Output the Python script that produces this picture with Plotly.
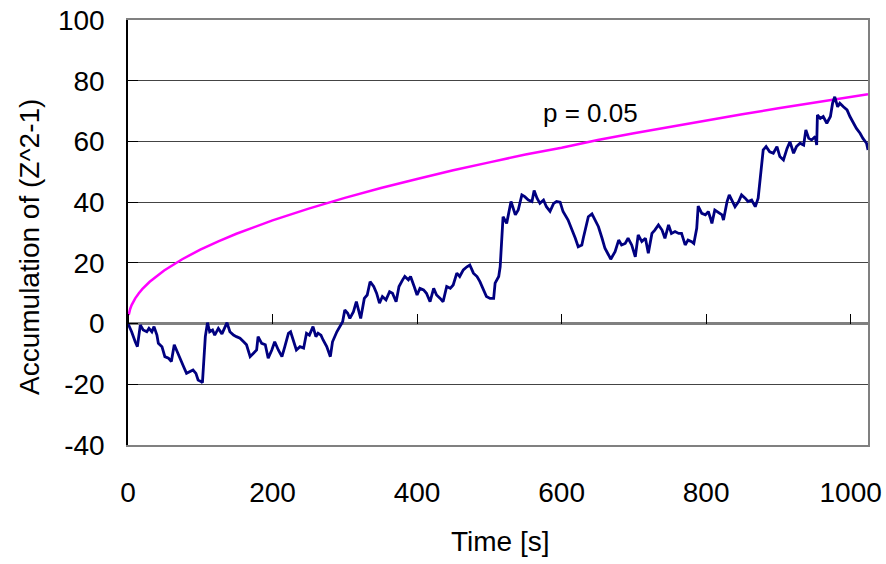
import plotly.graph_objects as go

# ---- data ----
t_blue = [0, 1, 5, 10, 13, 17, 21, 26, 29, 33, 36, 40, 42, 47, 51, 56, 60, 64, 67, 72, 77, 81, 86, 90, 94, 97, 101, 103,
          107, 110, 113, 117, 120, 125, 130, 137, 141, 146, 150, 155, 160, 164, 169, 173, 178, 180, 185, 190, 194, 199,
          203, 208, 213, 217, 222, 225, 229, 233, 238, 243, 247, 251, 256, 260, 263, 267, 270, 275, 280, 283, 289, 293,
          297, 300, 304, 307, 312, 316, 319, 322, 327, 331, 335, 340, 344, 348, 352, 357, 362, 366, 371, 375, 380, 383,
          388, 391, 396, 400, 404, 409, 413, 418, 423, 427, 432, 436, 441, 446, 450, 455, 459, 464, 469, 473, 478, 483,
          487, 492, 496, 501, 506, 508, 513, 515, 517, 519, 524, 530, 536, 540, 545, 549, 554, 559, 562, 566, 570, 575,
          579, 584, 589, 593, 598, 602, 609, 614, 619, 623, 628, 630, 634, 637, 642, 646, 651, 656, 660, 665, 668, 674,
          679, 683, 688, 692, 697, 702, 706, 711, 716, 720, 725, 729, 734, 739, 743, 748, 752, 757, 762, 766, 771, 775,
          780, 783, 787, 789, 794, 799, 803, 806, 808, 812, 817, 822, 824, 829, 832, 835, 840, 845, 849, 854, 858, 863,
          868, 872, 875, 877, 879, 883, 888, 893, 898, 902, 907, 912, 916, 921, 925, 930, 935, 938, 942, 946, 951, 953,
          954, 958, 962, 967, 972, 975, 978, 982, 985, 990, 995, 999, 1004, 1008, 1013, 1017, 1022, 1024]
z_blue = [0, -0.5, -2.7, -6, -7.6, -0.5, -2.1, -2.7, -1.6, -2.7, -1, -3.8, -6.5, -7.6, -10.9, -11.4, -12.5, -7, -8.7,
          -12, -14.2, -16.4, -15.8, -15.3, -16.4, -18.6, -19.1, -19.5,
          -4.3, 0.3, -2.7, -2.1, -3.8, -1.6, -3.4, 0.3, -2.7, -3.8, -4.3, -4.8, -6, -7, -10.9, -9.8, -8.7, -4.3, -6.5,
          -7, -11.4, -8.7,
          -6, -8.7, -10.9, -7.6, -3.2, -2.7, -5.4, -8.7, -7.6, -8.1, -3.2, -3.8, -1, -4.3, -3.2, -3.8, -5.4, -7.6,
          -10.9, -6, -2.7, -1,
          0.6, 4.5, 3.4, 1.7, 3.9, 7.2, 3.9, 1.7, 8.3, 9.4, 13.8, 12.2, 10, 6.7, 8.9, 7.8, 10.5, 10, 7.2, 12.2, 14.4,
          15.5,
          14.4, 15.5, 12.2, 9.4, 11.6, 11.1, 10, 7.2, 11.6, 9.4, 8.3, 7.2, 12.2, 11.6, 12.7, 16.6, 15.5, 17.7, 18.7,
          19.3, 16.6, 15.5,
          13.8, 11.1, 8.9, 8.3, 8.3, 13.3, 15.5, 18.7, 28.6, 35.2, 33, 40.2, 35.8, 37.4, 42.4, 41.8, 40.7, 40.2, 43.8,
          41.3, 39.6, 40.7,
          38.5, 37, 39.6, 40.2, 40, 36.9, 34.1, 31.4, 28.1, 25.3, 25.9, 28.1, 31.9, 35.2, 36.1, 34.1, 31.9, 28.1, 24.8,
          22.6, 21.2, 23.7,
          27.5, 25.9, 26.4, 28.1, 25.9, 22, 29.2, 27, 28.1, 23.2, 29.7, 30.8, 32.5, 30.8, 28.1, 32.5, 29.7, 30.3, 29.7,
          29.7, 25.9, 27.5,
          27, 26.4, 31.4, 38.7, 36.3, 35.8, 36.9, 34.7, 33, 37.4, 36.6, 35.8, 34.1, 40.2, 42.4, 40.7, 38.5, 40.2, 42.4,
          41.3, 40.2, 40.7,
          38.5, 41.3, 48.4, 53.3, 57.2, 58.3, 56.6, 56.1, 58.3, 55, 53.9, 57.7, 59.9, 56.1, 58.3, 59.4, 58.8, 63.8, 61,
          60.5, 61.6, 58.8,
          68.7, 67.6, 68.2, 66, 68.2, 72.6, 74.7, 71.4, 72.6, 71.4, 70.4, 68.2, 66, 64.3, 62.7, 61, 59.4, 57.2]

t_limit = [1, 2, 3, 5, 7, 10, 15, 20, 30, 40, 50, 75, 100, 125, 150, 200, 250, 300, 350, 400, 450, 500, 550, 600,
           650, 700, 750, 800, 850, 900, 950, 1000, 1024]
z_limit = [2.84, 3.99, 4.81, 6.07, 7.07, 8.31, 10.0, 11.41, 13.77, 15.76, 17.5, 21.2, 24.34, 27.1, 29.58, 33.99,
           37.88, 41.4, 44.65, 47.6, 50.48, 53.1, 55.69, 57.9, 60.44, 62.68, 64.84, 66.93, 68.96, 70.9, 72.84, 74.7,
           75.57]

x_ticks = [0, 200, 400, 600, 800, 1000]
y_ticks = [-40, -20, 0, 20, 40, 60, 80, 100]
y_tick_text = ["-40", "-20", "0", "20", "40", "60", "80", "100"]
x_range = [0, 1024]
y_range = [-40, 100]

FONT = "Arial, Liberation Sans, sans-serif"

fig = go.Figure()
fig.add_trace(go.Scatter(x=t_limit, y=z_limit, mode="lines", xaxis="x", yaxis="y",
                         line=dict(color="#FF00FF", width=2.5), showlegend=False))
fig.add_trace(go.Scatter(x=t_blue, y=z_blue, mode="lines", xaxis="x2", yaxis="y2",
                         line=dict(color="#000080", width=2.8), showlegend=False))

fig.update_layout(
    width=886, height=564,
    margin=dict(l=128, r=18, t=20, b=119, autoexpand=False),
    paper_bgcolor="white", plot_bgcolor="white",
    font=dict(family=FONT, size=28, color="black"),
    xaxis=dict(range=x_range, tickvals=x_ticks, ticks="", showgrid=False, zeroline=False,
               showline=True, linecolor="#808080", linewidth=1.5, mirror=True, automargin=False,
               ticklabelstandoff=22, tickfont=dict(size=28)),
    yaxis=dict(range=y_range, tickvals=y_ticks, ticktext=y_tick_text, ticks="inside", ticklen=10,
               tickcolor="black", tickwidth=1, showgrid=True, gridcolor="#444444", gridwidth=1,
               zeroline=True, zerolinecolor="#808080", zerolinewidth=2.5, automargin=False,
               showline=True, linecolor="black", linewidth=1.5,
               ticklabelstandoff=16, tickfont=dict(size=28)),
    xaxis2=dict(overlaying="x", anchor="free", position=40 / 140, side="top", automargin=False,
                range=x_range, tickvals=x_ticks, ticks="outside", ticklen=10, tickcolor="black",
                tickwidth=1, showticklabels=False, showgrid=False, zeroline=False, showline=False),
    yaxis2=dict(overlaying="y", side="right", anchor="x", range=y_range, showgrid=False, zeroline=False,
                automargin=False, showticklabels=False, ticks="", showline=True, linecolor="#808080",
                linewidth=1.5),
    annotations=[
        dict(text="p = 0.05", x=(590.5 - 128) / 740, y=(445 - 113) / 425, xref="paper", yref="paper",
             showarrow=False, font=dict(family=FONT, size=26, color="black"),
             xanchor="center", yanchor="middle"),
        dict(text="Accumulation of (Z^2-1)", x=(29 - 128) / 740, y=(445 - 247) / 425,
             xref="paper", yref="paper", showarrow=False, textangle=-90,
             font=dict(family=FONT, size=28, color="black"), xanchor="center", yanchor="middle"),
        dict(text="Time [s]", x=(500 - 128) / 740, y=(445 - 541) / 425,
             xref="paper", yref="paper", showarrow=False,
             font=dict(family=FONT, size=28, color="black"), xanchor="center", yanchor="middle"),
    ],
)

fig.write_html("out.html")
